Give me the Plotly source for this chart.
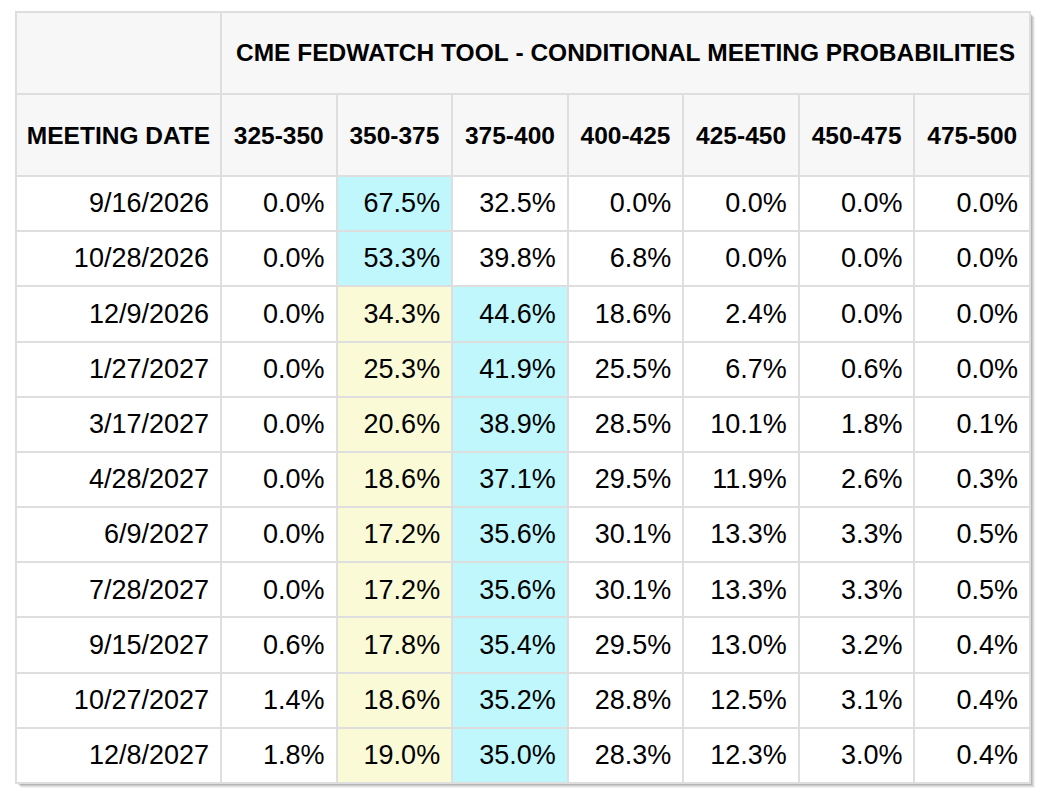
import plotly.graph_objects as go

# chart data
title = "CME FEDWATCH TOOL - CONDITIONAL MEETING PROBABILITIES"
first_col = "MEETING DATE"
ranges = ["325-350", "350-375", "375-400", "400-425", "425-450", "450-475", "475-500"]
dates = ["9/16/2026", "10/28/2026", "12/9/2026", "1/27/2027", "3/17/2027", "4/28/2027",
         "6/9/2027", "7/28/2027", "9/15/2027", "10/27/2027", "12/8/2027"]
p325 = [0.0, 0.0, 0.0, 0.0, 0.0, 0.0, 0.0, 0.0, 0.6, 1.4, 1.8]
p350 = [67.5, 53.3, 34.3, 25.3, 20.6, 18.6, 17.2, 17.2, 17.8, 18.6, 19.0]
p375 = [32.5, 39.8, 44.6, 41.9, 38.9, 37.1, 35.6, 35.6, 35.4, 35.2, 35.0]
p400 = [0.0, 6.8, 18.6, 25.5, 28.5, 29.5, 30.1, 30.1, 29.5, 28.8, 28.3]
p425 = [0.0, 0.0, 2.4, 6.7, 10.1, 11.9, 13.3, 13.3, 13.0, 12.5, 12.3]
p450 = [0.0, 0.0, 0.0, 0.6, 1.8, 2.6, 3.3, 3.3, 3.2, 3.1, 3.0]
p475 = [0.0, 0.0, 0.0, 0.0, 0.1, 0.3, 0.5, 0.5, 0.4, 0.4, 0.4]
current = "350-375"

cols = [p325, p350, p375, p400, p425, p450, p475]
n = len(dates)

W, H = 1040, 795
x0, x1 = 16, 1030
top, mid, bot = 12, 94, 783
head_h = 82
row_h = (bot - mid - head_h) / n
col_w = [205] + [(x1 - x0 - 205) / 7] * 7

# text offsets (plotly tables put text at the top of a cell)
dy_title, dy_head, dy_data, dx_data = 19, 20, 8, -4

BORDER = "#dedede"
HEAD_BG = "#f7f7f7"
MAX_BG = "#bff7fd"
CUR_BG = "#fafad6"
CLEAR = "rgba(0,0,0,0)"
FONT = "Liberation Sans, Arial, sans-serif"


def nb(s):
    # keep header labels on one line
    return "<b>" + s.replace(" ", "\u00a0") + "</b>"


# cell fills: cyan for the most likely range, yellow for the current target range
fills = [["white"] * n]
for name, col in zip(ranges, cols):
    cf = []
    for i, v in enumerate(col):
        rowmax = max(c[i] for c in cols)
        if v == rowmax:
            cf.append(MAX_BG)
        elif name == current:
            cf.append(CUR_BG)
        else:
            cf.append("white")
    fills.append(cf)


def px(v):
    return v / W


def py(v):
    return 1 - v / H


def dom(dx, ya, yb):
    return dict(x=[px(x0 + dx), px(x1 + dx)], y=[py(yb), py(ya)])


fig = go.Figure()

# grid: merged title row
fig.add_trace(go.Table(
    domain=dom(0, top, mid),
    columnwidth=[col_w[0], sum(col_w[1:])],
    header=dict(values=[" ", " "], fill_color=HEAD_BG,
                line=dict(color=BORDER, width=2), height=mid - top),
    cells=dict(values=[[], []]),
))
# grid: header row and data cells
fig.add_trace(go.Table(
    domain=dom(0, mid, bot + 2),
    columnwidth=col_w,
    header=dict(values=[" "] * 8, fill_color=HEAD_BG,
                line=dict(color=BORDER, width=2), height=head_h),
    cells=dict(values=[[" "] * n] * 8, fill_color=fills,
               line=dict(color=BORDER, width=2), height=row_h),
))

# text layers
fig.add_trace(go.Table(
    domain=dom(0, top + dy_title, mid + dy_title),
    columnwidth=[col_w[0], sum(col_w[1:])],
    header=dict(values=["", nb(title)], fill_color=CLEAR,
                line=dict(color=CLEAR, width=0), align="center", height=mid - top,
                font=dict(family=FONT, size=24.5, color="black")),
    cells=dict(values=[[], []]),
))
fig.add_trace(go.Table(
    domain=dom(0, mid + dy_head, mid + head_h + dy_head + 2),
    columnwidth=col_w,
    header=dict(values=[nb(first_col)] + [nb(r) for r in ranges],
                fill_color=CLEAR, line=dict(color=CLEAR, width=0),
                align="center", height=head_h,
                font=dict(family=FONT, size=24.5, color="black")),
    cells=dict(values=[[]] * 8),
))
fig.add_trace(go.Table(
    domain=dom(dx_data, mid + dy_data, bot + dy_data + 2),
    columnwidth=col_w,
    header=dict(values=[" "] * 8, fill_color=CLEAR,
                line=dict(color=CLEAR, width=0), height=head_h),
    cells=dict(values=[dates] + [["%.1f%%" % v for v in c] for c in cols],
               fill_color=CLEAR, line=dict(color=CLEAR, width=0),
               align="right", height=row_h,
               font=dict(family=FONT, size=27, color="black")),
))

# soft shadow on the right and bottom
for off, op in [(5, 0.05), (4, 0.07), (3, 0.09), (2, 0.11)]:
    fig.add_shape(type="rect", xref="paper", yref="paper", layer="below",
                  x0=px(x0 + off), x1=px(x1 + off), y0=py(bot + off), y1=py(top + off),
                  fillcolor="rgba(0,0,0,%s)" % op, line_width=0)

fig.update_layout(width=W, height=H, margin=dict(l=0, r=0, t=0, b=0),
                  paper_bgcolor="white", plot_bgcolor="white")

fig.write_html("out.html", config={"displayModeBar": False},
               post_script="document.body.style.margin='0';")
